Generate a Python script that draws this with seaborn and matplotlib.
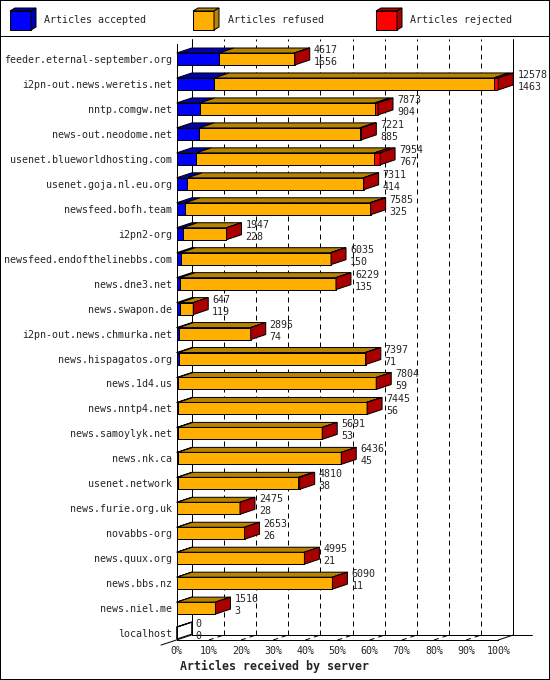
import numpy as np
import pandas as pd
import matplotlib
matplotlib.use("Agg")
import matplotlib.pyplot as plt
import seaborn as sns
from matplotlib.patches import Polygon, Rectangle
from matplotlib.lines import Line2D

# Daten
servers = [
    "feeder.eternal-september.org", "i2pn-out.news.weretis.net", "nntp.comgw.net",
    "news-out.neodome.net", "usenet.blueworldhosting.com", "usenet.goja.nl.eu.org",
    "newsfeed.bofh.team", "i2pn2-org", "newsfeed.endofthelinebbs.com", "news.dne3.net",
    "news.swapon.de", "i2pn-out.news.chmurka.net", "news.hispagatos.org", "news.1d4.us",
    "news.nntp4.net", "news.samoylyk.net", "news.nk.ca", "usenet.network",
    "news.furie.org.uk", "novabbs-org", "news.quux.org", "news.bbs.nz", "news.niel.me",
    "localhost",
]
offered = [4617, 12578, 7873, 7221, 7954, 7311, 7585, 1947, 6035, 6229, 647, 2895,
           7397, 7804, 7445, 5691, 6436, 4810, 2475, 2653, 4995, 6090, 1516, 0]
accepted = [1656, 1463, 904, 885, 767, 414, 325, 228, 150, 135, 119, 74,
            71, 59, 56, 53, 45, 38, 28, 26, 21, 11, 3, 0]
rejected = [15, 180, 130, 60, 220, 10, 35, 0, 15, 0, 0, 0,
            20, 0, 20, 0, 0, 50, 0, 0, 0, 0, 0, 0]

legend_labels = ["Articles accepted", "Articles refused", "Articles rejected"]

BLUE, BLUE_D = "#0000FF", "#0000B0"
ORANGE, ORANGE_D = "#FFAF00", "#B88400"
RED, RED_D = "#FF0000", "#AA0000"

off = np.array(offered, dtype=float)
acc = np.array(accepted, dtype=float)
rej = np.array(rejected, dtype=float)
ref = off - acc - rej
scale = 100.0 / off.max()

df = pd.DataFrame({
    "server": servers,
    "acc": acc * scale,
    "mid": (acc + ref) * scale,
    "tot": off * scale,
})

sns.set_style("white")
plt.rcParams["font.family"] = ["DejaVu Sans Mono"]

PX = 0.72  # 1 Pixel in Punkt bei dpi 100
fig = plt.figure(figsize=(5.5, 6.8), dpi=100)
ax = fig.add_axes([176.7 / 550, 40 / 680, 321.6 / 550, 596 / 680])
ax.patch.set_alpha(0)

# Vorderseiten der gestapelten Balken
for col, face in [("tot", RED), ("mid", ORANGE), ("acc", BLUE)]:
    sns.barplot(data=df, x=col, y="server", orient="h", color=face, saturation=1,
                width=0.48, edgecolor="black", linewidth=PX, errorbar=None, ax=ax)

ax.set_xlim(0, 100)
ymax, ymin = 23.277, -0.601
ax.set_ylim(ymax, ymin)

dx = 15 / 3.216       # Tiefe in %
dy = 5 / 24.957       # Tiefe in Zeilen
h = 0.24

# Rueckwand, Boden, Gitter
ax.plot([dx, dx], [ymax - dy, ymin - dy], color="black", lw=PX, clip_on=False, zorder=0.5)
ax.plot([100 + dx, 100 + dx], [ymax - dy, ymin - dy], color="black", lw=PX, clip_on=False, zorder=0.5)
ax.plot([dx, 110.4], [ymax - dy, ymax - dy], color="black", lw=PX, clip_on=False, zorder=0.5)
ax.plot([100, 100 + dx], [ymax, ymax - dy], color="black", lw=PX, clip_on=False, zorder=0.5)
ax.plot([-4.88, dx], [23.48, ymax - dy], color="black", lw=PX, clip_on=False, zorder=0.5)
for p in range(10, 100, 10):
    ax.plot([p + dx, p + dx], [ymax - dy, ymin - dy], color="black", lw=PX,
            linestyle=(0, (5, 4)), clip_on=False, zorder=0.5)
    ax.plot([p, p + dx], [ymax, ymax - dy], color="black", lw=PX,
            linestyle=(0, (5, 4)), clip_on=False, zorder=0.5)

# Ober- und Seitenflaechen
for i in range(len(servers)):
    top, bot = i - h, i + h
    segs = [(0, df["acc"][i], BLUE_D), (df["acc"][i], df["mid"][i], ORANGE_D),
            (df["mid"][i], df["tot"][i], RED_D)]
    for a, b, c in segs:
        ax.add_patch(Polygon([(a, top), (b, top), (b + dx, top - dy), (a + dx, top - dy)],
                             closed=True, facecolor=c, edgecolor="black", lw=PX,
                             clip_on=False, zorder=3))
    b = df["tot"][i]
    ax.add_patch(Polygon([(b, top), (b + dx, top - dy), (b + dx, bot - dy), (b, bot)],
                         closed=True, facecolor=RED_D if off[i] > 0 else "none",
                         edgecolor="black", lw=PX, clip_on=False, zorder=3))
    ax.annotate(str(offered[i]), xy=(b + dx, i), xytext=(4 * PX, 9 * PX),
                textcoords="offset points", ha="left", va="center", fontsize=7.2,
                annotation_clip=False)
    ax.annotate(str(accepted[i]), xy=(b + dx, i), xytext=(4 * PX, -3 * PX),
                textcoords="offset points", ha="left", va="center", fontsize=7.2,
                annotation_clip=False)

# Achsen
ax.set_xticks(range(0, 101, 10))
ax.set_xticklabels([f"{v}%" for v in range(0, 101, 10)])
ax.tick_params(axis="x", length=4 * PX, width=PX, pad=1.5, labelsize=7.2,
               direction="out", color="black")
ax.tick_params(axis="y", length=0, pad=3.4, labelsize=7.2)
for s in ["top", "right"]:
    ax.spines[s].set_visible(False)
for s in ["left", "bottom"]:
    ax.spines[s].set_color("black")
    ax.spines[s].set_linewidth(PX)
ax.set_ylabel("")
ax.set_xlabel("Articles received by server", fontsize=8.4, fontweight="bold", loc="left")
ax.xaxis.set_label_coords(0.009, (640 - 666) / 596)
ax.xaxis.label.set_va("center")

# Legende
lax = fig.add_axes([0, 1 - 35 / 680, 1, 35 / 680])
lax.set_xlim(0, 550)
lax.set_ylim(35, 0)
lax.axis("off")
for x0, lab, face, dark in zip([10, 193, 376], legend_labels,
                               [BLUE, ORANGE, RED], [BLUE_D, ORANGE_D, RED_D]):
    lax.add_patch(Rectangle((x0, 11), 21, 19, facecolor=face, edgecolor="black", lw=PX))
    lax.add_patch(Polygon([(x0, 11), (x0 + 21, 11), (x0 + 26, 8), (x0 + 5, 8)],
                          facecolor=dark, edgecolor="black", lw=PX))
    lax.add_patch(Polygon([(x0 + 21, 11), (x0 + 26, 8), (x0 + 26, 27), (x0 + 21, 30)],
                          facecolor=dark, edgecolor="black", lw=PX))
    lax.text(x0 + 34.5, 20, lab, ha="left", va="center", fontsize=7.2)

fig.add_artist(Line2D([0, 1], [1 - 35.5 / 680] * 2, color="black", lw=PX,
                      transform=fig.transFigure))
fig.add_artist(Rectangle((0, 0), 1, 1, transform=fig.transFigure, fill=False,
                         edgecolor="black", lw=2 * PX))

fig.savefig("out.png", dpi=100)
